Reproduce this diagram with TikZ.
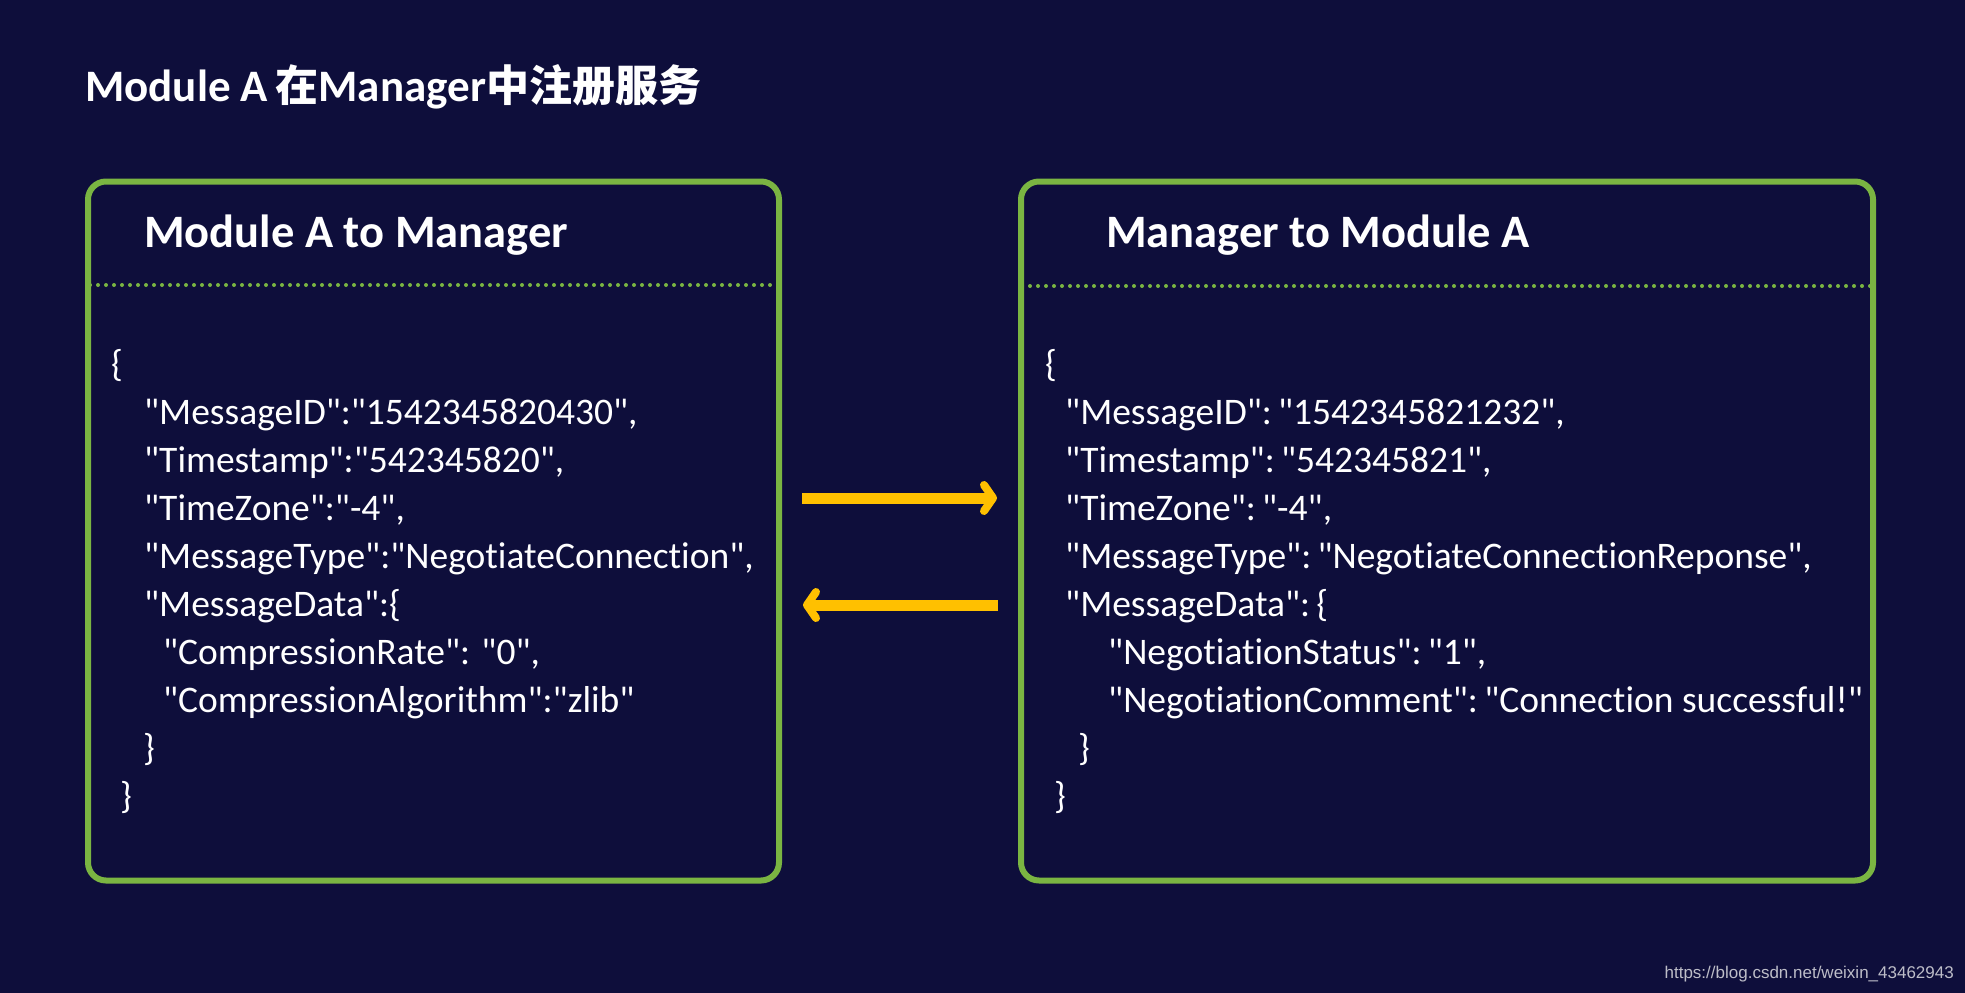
\documentclass[tikz,border=0pt]{standalone}
\usepackage{fontspec}
\setmainfont{Carlito}[Ligatures={TeXOff,CommonOff}]
\newfontfamily\cjk{Noto Sans CJK SC}
\newfontfamily\urlfont{Liberation Sans}
\usetikzlibrary{arrows.meta}

\definecolor{bgnavy}{HTML}{0E0E3B}
\definecolor{boxgreen}{HTML}{7AB542}
\definecolor{arrowyellow}{HTML}{FFC000}
\definecolor{markgray}{HTML}{BDBDC8}

\begin{document}
\begin{tikzpicture}[x=1pt, y=-1pt,
    card/.style={draw=boxgreen, line width=6pt, rounded corners=18pt, minimum height=699pt, inner sep=0pt},
    sepline/.style={boxgreen, line width=4pt, line cap=round, dash pattern=on 0pt off 8pt},
    code/.style={anchor=base west, inner sep=0pt, text=white, font=\fontsize{37.5}{40}\selectfont},
    head/.style={anchor=base west, inner sep=0pt, text=white, font=\fontsize{46.5}{50}\selectfont\bfseries},
    flow/.style={draw=arrowyellow, line width=11pt, -{Straight Barb[length=9pt, width=26pt, round, line width=8pt]}, shorten <=20pt, shorten >=21pt}]

    % Background
    \fill[bgnavy] (0,0) rectangle (1965,993);

    % Title
    \node[anchor=base west, inner sep=0pt, text=white, font=\fontsize{45}{48}\selectfont\bfseries] (title) at (85,101) {Module A\,{\cjk\fontsize{43}{46}\selectfont 在}Manager{\cjk\fontsize{43}{46}\selectfont 中注册服务}};

    % Module A to Manager
    \node[card, minimum width=691pt] (boxA) at (433.5,531) {};
    \node[head] (headA) at (144,247) {Module A to Manager};
    \draw[sepline] (90,285) -- (777,285);
    \node[code] (a1) at (111,376) {\{};
    \node[code] (a2) at (144,424) {"MessageID":"1542345820430",};
    \node[code] (a3) at (144,472) {"Timestamp":"542345820",};
    \node[code] (a4) at (144,520) {"TimeZone":"-4",};
    \node[code] (a5) at (144,568) {"MessageType":"NegotiateConnection",};
    \node[code] (a6) at (144,616) {"MessageData":\{};
    \node[code] (a7) at (163,664) {"CompressionRate": "0",};
    \node[code] (a8) at (163,712) {"CompressionAlgorithm":"zlib"};
    \node[code] (a9) at (143,760) {\}};
    \node[code] (a10) at (120,808) {\}};

    % Manager to Module A
    \node[card, minimum width=852pt] (boxB) at (1447,531) {};
    \node[head] (headB) at (1106,247) {Manager to Module A};
    \draw[sepline] (1022,286) -- (1872,286);
    \node[code] (b1) at (1045,376) {\{};
    \node[code] (b2) at (1065,424) {"MessageID":\,"1542345821232",};
    \node[code] (b3) at (1065,472) {"Timestamp":\,"542345821",};
    \node[code] (b4) at (1065,520) {"TimeZone":\,"-4",};
    \node[code] (b5) at (1065,568) {"MessageType":\,"NegotiateConnectionReponse",};
    \node[code] (b6) at (1065,616) {"MessageData":\,\{};
    \node[code] (b7) at (1108,664) {"NegotiationStatus":\,"1",};
    \node[code] (b8) at (1108,712) {"NegotiationComment":\,"Connection successful!"};
    \node[code] (b9) at (1078,760) {\}};
    \node[code] (b10) at (1054,808) {\}};

    % Request and reply
    \draw[flow] ([yshift=33pt]boxA.east) -- ([yshift=33pt]boxB.west);
    \draw[flow] ([yshift=-74pt]boxB.west) -- ([yshift=-74pt]boxA.east);

    % Watermark
    \node[anchor=base east, inner sep=0pt, text=markgray, font=\urlfont\fontsize{17}{19}\selectfont] (mark) at (1954,978) {https://blog.csdn.net/weixin\_43462943};
\end{tikzpicture}
\end{document}
